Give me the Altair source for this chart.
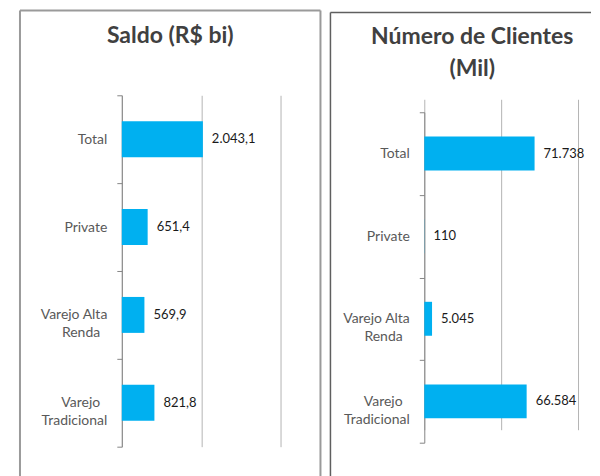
import altair as alt
import pandas as pd

NB = "\u00a0"
ZW = "\u200b"
cat_display = [
    "Total",
    "Private",
    "Varejo Alta\n" + "Renda" + NB * 2 + ZW,
    "Varejo" + NB * 2 + ZW + "\nTradicional",
]
saldo = [2043.1, 651.4, 569.9, 821.8]
clientes = [71738, 110, 5045, 66584]
saldo_ticks = [0, 2000, 4000]
clientes_ticks = [0, 50000, 100000]


def br_num(v, dec):
    s = f"{v:,.{dec}f}"
    return s.replace(",", "X").replace(".", ",").replace("X", ".")


df1 = pd.DataFrame({"cat": cat_display, "v": saldo, "lbl": [br_num(v, 1) for v in saldo]})
df2 = pd.DataFrame({"cat": cat_display, "v": clientes, "lbl": [br_num(v, 0) for v in clientes]})

FONT = "Lato"
BAR = "#00b0f0"

yaxis = alt.Axis(
    title=None, domainColor="#868686", tickColor="#868686", tickSize=5,
    labelPadding=10, labelFont=FONT, labelFontSize=14, labelColor="#595959",
    labelLineHeight=18, labelExpr="split(datum.label, '\\n')", tickBand="extent",
    grid=False, labelLimit=200,
)


def panel(df, ticks, domain_max, width, yrange, size, title_lines, title_offset, title_dx,
          edges, border_color, border_w):
    xscale = alt.Scale(domain=[0, domain_max], nice=False)
    xaxis = alt.Axis(values=ticks, grid=True, gridColor="#b4b4b4", labels=False, ticks=False,
                     domain=False, title=None)
    yscale = alt.Scale(paddingInner=0, paddingOuter=0, range=yrange)
    base = alt.Chart(df)
    bars = base.mark_bar(color=BAR, size=size).encode(
        x=alt.X("v:Q", scale=xscale, axis=xaxis),
        y=alt.Y("cat:N", sort=None, scale=yscale, axis=yaxis),
    )
    text = base.mark_text(align="left", baseline="middle", dx=9, font=FONT, fontSize=13,
                          color="#1a1a1a").encode(
        x=alt.X("v:Q", scale=xscale),
        y=alt.Y("cat:N", sort=None, scale=yscale),
        text="lbl:N",
    )
    frames = []
    for (x1, x2, y1, y2) in edges:
        frames.append(
            alt.Chart(alt.Data(values=[{"a": 1}])).mark_rule(
                stroke=border_color, strokeWidth=border_w
            ).encode(
                x=alt.value(x1), x2=alt.value(x2), y=alt.value(y1), y2=alt.value(y2),
            )
        )
    return alt.layer(*frames, bars, text).properties(
        width=width, height=352,
        title=alt.TitleParams(
            title_lines, font=FONT, fontSize=23, fontWeight="bold", color="#404040",
            anchor="middle", baseline="alphabetic", offset=title_offset, dx=title_dx,
            lineHeight=32,
        ),
    )


left = panel(df1, saldo_ticks, 4000, 159, [0, 352], 36, "Saldo (R$ bi)", -56.5, -31,
             [(-102, -102, -85, 420), (-102, 199, -85, -85), (199, 199, -85, 420)],
             "#9a9a9a", 2)
right = panel(df2, clientes_ticks, 100000, 154, [17, 348], 34,
              ["Número de Clientes", "(Mil)"], -87, -29,
              [(-94, -94, -83, 420), (-94, 167, -83, -83)], "#5f5f5f", 1.5)

chart = alt.hconcat(left, right, spacing=144, bounds="flush").properties(
    padding={"left": 11, "top": 1, "right": 0, "bottom": 0}
).configure_view(stroke=None)

chart.save("out.html", embed_options={"renderer": "svg", "actions": False})
